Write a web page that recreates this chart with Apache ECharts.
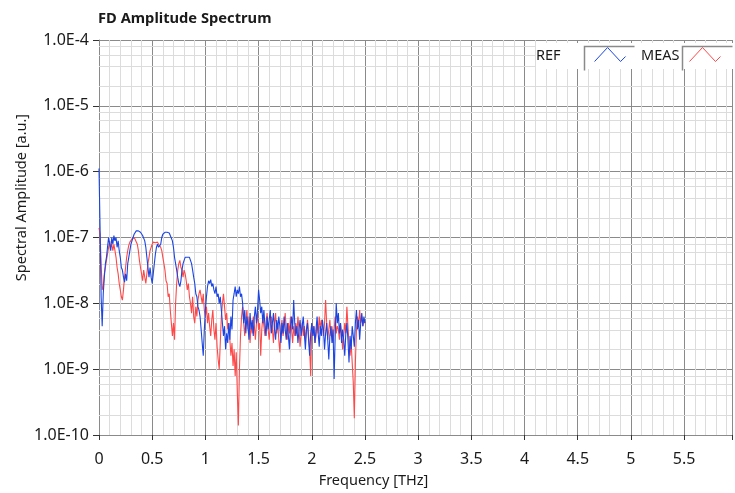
<!DOCTYPE html>
<html><head><meta charset="utf-8">
<script src="https://cdn.jsdelivr.net/npm/echarts@6/dist/echarts.min.js"></script>
<style>html,body{margin:0;padding:0;background:#fff}#c{width:735px;height:493px}</style>
</head><body><div id="c"></div>
<script>
const freq = [
0,0.01,0.02,0.03,0.04,0.05,0.06,0.07,0.08,0.09,
0.1,0.11,0.12,0.13,0.14,0.15,0.16,0.17,0.18,0.19,
0.2,0.21,0.22,0.23,0.24,0.25,0.26,0.27,0.28,0.29,
0.3,0.31,0.32,0.33,0.34,0.35,0.36,0.37,0.38,0.39,
0.4,0.41,0.42,0.43,0.44,0.45,0.46,0.47,0.48,0.49,
0.5,0.51,0.52,0.53,0.54,0.55,0.56,0.57,0.58,0.59,
0.6,0.61,0.62,0.63,0.64,0.65,0.66,0.67,0.68,0.69,
0.7,0.71,0.72,0.73,0.74,0.75,0.76,0.77,0.78,0.79,
0.8,0.81,0.82,0.83,0.84,0.85,0.86,0.87,0.88,0.89,
0.9,0.91,0.92,0.93,0.94,0.95,0.96,0.97,0.98,0.99,
1,1.01,1.02,1.03,1.04,1.05,1.06,1.07,1.08,1.09,
1.1,1.11,1.12,1.13,1.14,1.15,1.16,1.17,1.18,1.19,
1.2,1.21,1.22,1.23,1.24,1.25,1.26,1.27,1.28,1.29,
1.3,1.31,1.32,1.33,1.34,1.35,1.36,1.37,1.38,1.39,
1.4,1.41,1.42,1.43,1.44,1.45,1.46,1.47,1.48,1.49,
1.5,1.51,1.52,1.53,1.54,1.55,1.56,1.57,1.58,1.59,
1.6,1.61,1.62,1.63,1.64,1.65,1.66,1.67,1.68,1.69,
1.7,1.71,1.72,1.73,1.74,1.75,1.76,1.77,1.78,1.79,
1.8,1.81,1.82,1.83,1.84,1.85,1.86,1.87,1.88,1.89,
1.9,1.91,1.92,1.93,1.94,1.95,1.96,1.97,1.98,1.99,
2,2.01,2.02,2.03,2.04,2.05,2.06,2.07,2.08,2.09,
2.1,2.11,2.12,2.13,2.14,2.15,2.16,2.17,2.18,2.19,
2.2,2.21,2.22,2.23,2.24,2.25,2.26,2.27,2.28,2.29,
2.3,2.31,2.32,2.33,2.34,2.35,2.36,2.37,2.38,2.39,
2.4,2.41,2.42,2.43,2.44,2.45,2.46,2.47,2.48,2.49,
2.5];

const refAmp = [
1.12e-6,1.4e-7,1.26e-8,4.5e-9,1.4e-8,2.5e-8,4e-8,5e-8,7.1e-8,1e-7,
7.9e-8,6.3e-8,1e-7,7.9e-8,1.07e-7,8.9e-8,1e-7,7.1e-8,8.9e-8,6.3e-8,
5e-8,3.5e-8,3.2e-8,2.5e-8,2.1e-8,2.8e-8,2.2e-8,4e-8,5e-8,6.3e-8,
7.9e-8,8.9e-8,1e-7,1.12e-7,1.2e-7,1.26e-7,1.32e-7,1.26e-7,1.32e-7,1.2e-7,
1.12e-7,1.07e-7,1e-7,8.9e-8,7.1e-8,5e-8,3.5e-8,2.5e-8,3.5e-8,2.5e-8,
2e-8,2.8e-8,4e-8,5.6e-8,7.1e-8,7.9e-8,7.1e-8,7.1e-8,7.9e-8,1e-7,
1.12e-7,1.2e-7,1.2e-7,1.26e-7,1.2e-7,1.26e-7,1.17e-7,1.07e-7,1e-7,8.9e-8,
7.1e-8,5e-8,4e-8,3.2e-8,2.5e-8,2e-8,1.8e-8,2.2e-8,3.2e-8,4e-8,
4.5e-8,5e-8,4.8e-8,5e-8,5.2e-8,5e-8,4.5e-8,4e-8,3.2e-8,2.5e-8,
2e-8,1.4e-8,1.26e-8,8.9e-9,7.9e-9,6.3e-9,4e-9,2.5e-9,1.6e-9,4e-9,
7.9e-9,1.26e-8,1.8e-8,2.2e-8,2e-8,2.3e-8,1.8e-8,2e-8,1.6e-8,1.4e-8,
1.8e-8,1.26e-8,1.4e-8,1e-8,1.26e-8,7.9e-9,5e-9,3.2e-9,4.5e-9,2e-9,
3.5e-9,2.5e-9,5e-9,2.8e-9,6.3e-9,4e-9,1.12e-8,1.4e-8,1.8e-8,1.26e-8,
1.6e-8,1.4e-8,1.8e-8,1.26e-8,1.4e-8,1e-8,5e-9,7.9e-9,3.5e-9,6.3e-9,
4.5e-9,2.8e-9,7.1e-9,4e-9,5.6e-9,3.2e-9,6.3e-9,8.9e-9,5e-9,7.9e-9,
1.6e-8,1.12e-8,7.1e-9,8.9e-9,5e-9,7.9e-9,4.5e-9,3.2e-9,6.3e-9,4e-9,
5.6e-9,7.9e-9,3.5e-9,5e-9,7.1e-9,4e-9,2.8e-9,5.6e-9,4e-9,6.3e-9,
4.5e-9,2.5e-9,5e-9,3.5e-9,6.3e-9,4e-9,2.8e-9,5e-9,3.2e-9,2e-9,
4.5e-9,6.3e-9,4e-9,1.12e-8,5e-9,3.2e-9,4.5e-9,2.5e-9,4e-9,5.6e-9,
3.2e-9,4.5e-9,6.3e-9,3.5e-9,2e-9,4e-9,5e-9,2.8e-9,1.6e-9,3.5e-9,
5e-9,3.2e-9,4.5e-9,2.5e-9,4e-9,6.3e-9,3.5e-9,2.2e-9,4.5e-9,3.2e-9,
5.6e-9,4e-9,2e-9,3.5e-9,5e-9,2.8e-9,1.4e-9,3.2e-9,4.5e-9,2.5e-9,
4e-9,7.1e-10,3.2e-9,1e-8,5e-9,7.1e-9,3.5e-9,5e-9,2.5e-9,4e-9,
2.8e-9,1.6e-9,3.5e-9,5e-9,2.8e-9,1.26e-9,3.2e-9,2e-9,4.5e-9,3.2e-9,
2.2e-9,5e-9,7.9e-9,4e-9,5.6e-9,2.8e-9,5e-9,7.1e-9,4.5e-9,6.3e-9,
5e-9];

const measAmp = [
1.4e-7,1.12e-7,4e-8,1.6e-8,1.8e-8,2.8e-8,3.5e-8,4.5e-8,5.6e-8,7.1e-8,
8.9e-8,7.1e-8,7.9e-8,6.3e-8,7.9e-8,6.3e-8,5e-8,3.5e-8,2.8e-8,2e-8,
1.6e-8,1.26e-8,1.12e-8,1.6e-8,2.5e-8,3.5e-8,5e-8,6.3e-8,7.6e-8,8.5e-8,
8.9e-8,9.5e-8,1e-7,1e-7,9.3e-8,8.9e-8,7.9e-8,6.3e-8,4.5e-8,3.5e-8,
2.8e-8,2.2e-8,3.2e-8,2.5e-8,2e-8,2.8e-8,4e-8,5e-8,6.3e-8,7.1e-8,
7.9e-8,8.5e-8,8.9e-8,8.3e-8,8.9e-8,8.5e-8,7.9e-8,7.6e-8,7.1e-8,6.3e-8,
5e-8,4e-8,3.2e-8,2.2e-8,2e-8,1.26e-8,1.4e-8,7.9e-9,5e-9,3.2e-9,
5e-9,2.8e-9,1e-8,2e-8,3.2e-8,4e-8,4.5e-8,3.5e-8,3.2e-8,2.5e-8,
3.2e-8,2.8e-8,2.2e-8,1.6e-8,2e-8,1.26e-8,1e-8,7.1e-9,1.26e-8,6.3e-9,
5e-9,8.9e-9,6.3e-9,1.12e-8,1.4e-8,1.6e-8,1.26e-8,1e-8,1.4e-8,7.9e-9,
6.3e-9,8.9e-9,5e-9,7.1e-9,4.5e-9,3.2e-9,5.6e-9,7.9e-9,4e-9,2.8e-9,
5e-9,2.2e-9,1.4e-9,1e-9,2.5e-9,6.3e-9,1e-8,1.4e-8,8.9e-9,5.6e-9,
7.1e-9,4e-9,5e-9,2.8e-9,1.6e-9,2.5e-9,1.12e-9,2e-9,7.9e-10,1.8e-9,
4.5e-10,1.4e-10,1e-9,3.2e-9,6.3e-9,8.9e-9,5e-9,3.2e-9,5.6e-9,7.9e-9,
4e-9,6.3e-9,2.5e-9,5e-9,3.5e-9,6.3e-9,4.5e-9,2.8e-9,5e-9,7.1e-9,
4e-9,5e-9,1.6e-9,4e-9,6.3e-9,4.5e-9,3.2e-9,5e-9,7.1e-9,4e-9,
2.8e-9,4.5e-9,6.3e-9,4e-9,2.5e-9,5e-9,7.1e-9,3.5e-9,5e-9,2.8e-9,
1.8e-9,4e-9,5.6e-9,3.2e-9,4.5e-9,7.1e-9,4e-9,2.8e-9,5e-9,3.5e-9,
6.3e-9,4e-9,2.5e-9,4.5e-9,3.2e-9,5e-9,3.5e-9,6.3e-9,4e-9,2.2e-9,
3.5e-9,5e-9,3.2e-9,4.5e-9,2.8e-9,4e-9,5.6e-9,3.2e-9,2e-9,7.9e-10,
5e-9,3.2e-9,4.5e-9,2.5e-9,3.2e-9,5e-9,3.5e-9,6.3e-9,4e-9,5.6e-9,
4.5e-9,3.2e-9,5e-9,1.12e-8,5e-9,2.8e-9,4e-9,5.6e-9,3.2e-9,4.5e-9,
2.5e-9,4e-9,6.3e-9,3.5e-9,4.5e-9,4e-9,2.8e-9,5e-9,3.5e-9,2e-9,
3.2e-9,5e-9,3.5e-9,8.9e-9,4.5e-9,2.5e-9,1.6e-9,2.5e-9,1.26e-9,6.3e-10,
1.8e-10,1.26e-9,4e-9,6.3e-9,4.5e-9,7.9e-9,5e-9,6.3e-9,4.5e-9,5.6e-9,
5e-9];

const seriesNames = ['REF', 'MEAS'];
const seriesColors = ['#1a45e4', '#ff4848'];
const yMin = 1e-10, yMax = 1e-4;
const xMin = 0, xMax = 5.95, xStep = 0.5;
const minorMultipliers = [2, 4, 6, 8];

const minorY = [];
for (let e = -10; e < -4; e++) {
  minorMultipliers.forEach(m => minorY.push([m * Math.pow(10, e)]));
}

const FONT = 'Noto Sans';
const TXT = '#1a1a1a';
const MAJOR = '#8a8a8a', MINOR = '#dcdcdc';
const chart = echarts.init(document.getElementById('c'), null, { renderer: 'canvas' });
const option = {
  animation: false,
  backgroundColor: '#fff',
  textStyle: { fontFamily: FONT },
  title: {
    text: 'FD Amplitude Spectrum',
    left: 93, top: 6,
    textStyle: { fontFamily: FONT, fontSize: 14.7, fontWeight: 'bold', color: TXT }
  },
  grid: { left: 99, right: -2, top: 40, bottom: 54, containLabel: false },
  legend: {
    data: [
      { name: 'REF', itemStyle: { color: 'transparent', borderColor: seriesColors[0], borderWidth: 1 },
        textStyle: { padding: [0, 24, 0, 0] } },
      { name: 'MEAS', itemStyle: { color: 'transparent', borderColor: seriesColors[1], borderWidth: 1 } }
    ],
    right: 0, top: 43,
    orient: 'horizontal',
    align: 'right',
    icon: 'path://M0,0 M5,18 L18,4 L31,18 L36,13 M50,25',
    itemWidth: 50, itemHeight: 25,
    itemGap: 1,
    padding: [0, 0, 0, 0],
    backgroundColor: '#fff',
    textStyle: { fontFamily: FONT, fontSize: 14.5, color: TXT }
  },
  graphic: [
    { type: 'polyline', right: 98, top: 44, z: 100, silent: true,
      shape: { points: [[0, 24], [0, 0], [50, 0]] }, style: { stroke: '#8a8a8a', lineWidth: 1.5, fill: null } },
    { type: 'polyline', right: 0, top: 44, z: 100, silent: true,
      shape: { points: [[0, 24], [0, 0], [50, 0]] }, style: { stroke: '#8a8a8a', lineWidth: 1.5, fill: null } }
  ],
  xAxis: {
    type: 'value', min: xMin, max: xMax, interval: xStep,
    name: 'Frequency [THz]', nameLocation: 'middle', nameGap: 38, nameMoveOverlap: false,
    nameTextStyle: { fontFamily: FONT, fontSize: 14.5, color: TXT, padding: [0, 84, 0, 0] },
    axisLine: { show: true, lineStyle: { color: MAJOR } },
    axisTick: { show: true, inside: false, length: 5, lineStyle: { color: '#333' } },
    axisLabel: {
      fontFamily: FONT, fontSize: 16, color: TXT, margin: 16,
      formatter: v => (Math.abs(v / xStep - Math.round(v / xStep)) < 1e-6 ? String(v) : '')
    },
    splitLine: { show: true, lineStyle: { color: MAJOR, width: 1 } },
    minorTick: { show: false, splitNumber: 5 },
    minorSplitLine: { show: true, lineStyle: { color: MINOR, width: 1 } }
  },
  yAxis: {
    type: 'log', logBase: 10, min: yMin, max: yMax,
    name: 'Spectral Amplitude [a.u.]', nameLocation: 'middle', nameGap: 70, nameMoveOverlap: false,
    nameTextStyle: { fontFamily: FONT, fontSize: 14.5, color: TXT, padding: [0, 0, 0, 80] },
    axisLine: { show: true, lineStyle: { color: MAJOR } },
    axisTick: { show: true, inside: false, length: 6, lineStyle: { color: '#333' } },
    axisLabel: {
      fontFamily: FONT, fontSize: 16, color: TXT, margin: 10,
      formatter: v => '1.0E' + Math.round(Math.log10(v))
    },
    splitLine: { show: true, lineStyle: { color: MAJOR, width: 1 } },
    minorSplitLine: { show: false }
  },
  series: [
    {
      name: 'minorGrid', type: 'custom', silent: true, z: 1,
      encode: { y: 0 },
      data: minorY,
      renderItem: (params, api) => {
        const v = api.value(0);
        const p1 = api.coord([xMin, v]);
        const p2 = api.coord([xMax, v]);
        const y = Math.round(p1[1]) + 0.5;
        return {
          type: 'line', silent: true,
          shape: { x1: p1[0], y1: y, x2: p2[0], y2: y },
          style: { stroke: MINOR, lineWidth: 1 }
        };
      }
    },
    {
      name: seriesNames[1], type: 'line', showSymbol: false, symbol: 'none', z: 3,
      lineStyle: { color: seriesColors[1], width: 1.1 }, itemStyle: { color: seriesColors[1] },
      data: freq.map((f, i) => [f, measAmp[i]])
    },
    {
      name: seriesNames[0], type: 'line', showSymbol: false, symbol: 'none', z: 4,
      lineStyle: { color: seriesColors[0], width: 1.1 }, itemStyle: { color: seriesColors[0] },
      data: freq.map((f, i) => [f, refAmp[i]])
    }
  ]
};
chart.setOption(option);
</script>
</body></html>
